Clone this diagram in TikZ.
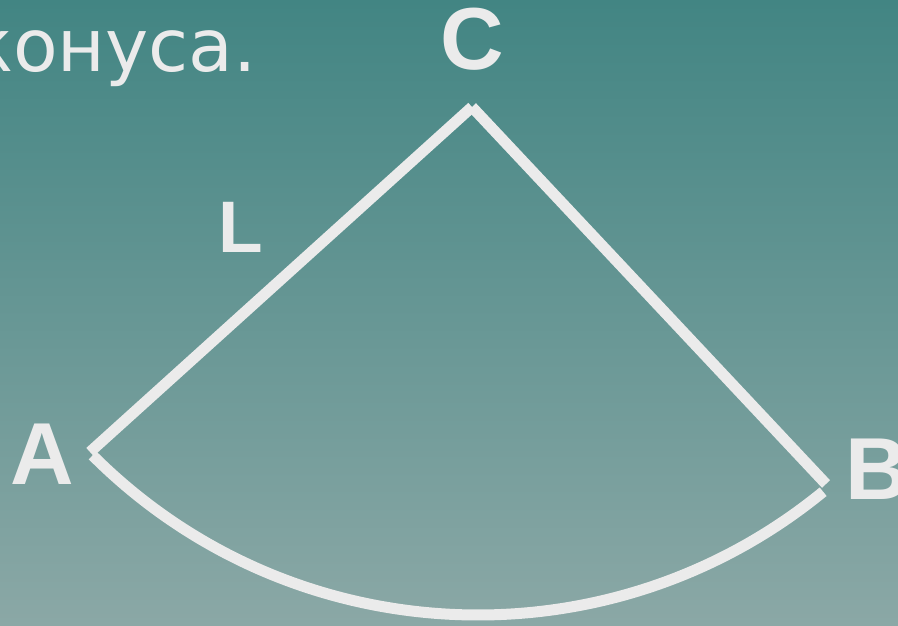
\documentclass[tikz,border=0pt]{standalone}
\usepackage{fontspec}
\setmainfont{DejaVu Sans}
\newfontfamily\lblfont{Liberation Sans}
\definecolor{ink}{HTML}{EBEBEB}
\definecolor{bgtop}{HTML}{428583}
\definecolor{bgbot}{HTML}{8BA8A6}
\begin{document}
\begin{tikzpicture}[x=1pt,y=1pt,
  edge/.style={draw=ink,line width=11pt,line cap=butt},
  lbl/.style={text=ink,font=\lblfont\bfseries\fontsize{88}{88}\selectfont,inner sep=0pt}]
\useasboundingbox (0,0) rectangle (898,626);
\shade[top color=bgtop,bottom color=bgbot] (0,0) rectangle (898,626);
% top text
\node[anchor=base east,inner sep=0pt,text=ink,font=\fontsize{73}{73}\selectfont] (t) at (257,554) {конуса.};
% geometry (pixel coords, y flipped)
\coordinate (C) at (472,519);
\coordinate (A) at (92.6,170.6);
\coordinate (B) at (823,134);
\draw[edge] (C) -- (90,174);
\draw[edge] (C) -- (826,142);
\draw[edge] (A) arc[start angle=225,end angle=309.3,radius=545];
% labels
\node[lbl,anchor=base] (lc) at (472,556) {C};
\node[lbl,anchor=base west] (la) at (10,141) {A};
\node[lbl,anchor=base west] (lb) at (845,126) {B};
\node[lbl,anchor=base west,font=\lblfont\bfseries\fontsize{73}{73}\selectfont] (ll) at (218,373) {L};
\end{tikzpicture}
\end{document}
